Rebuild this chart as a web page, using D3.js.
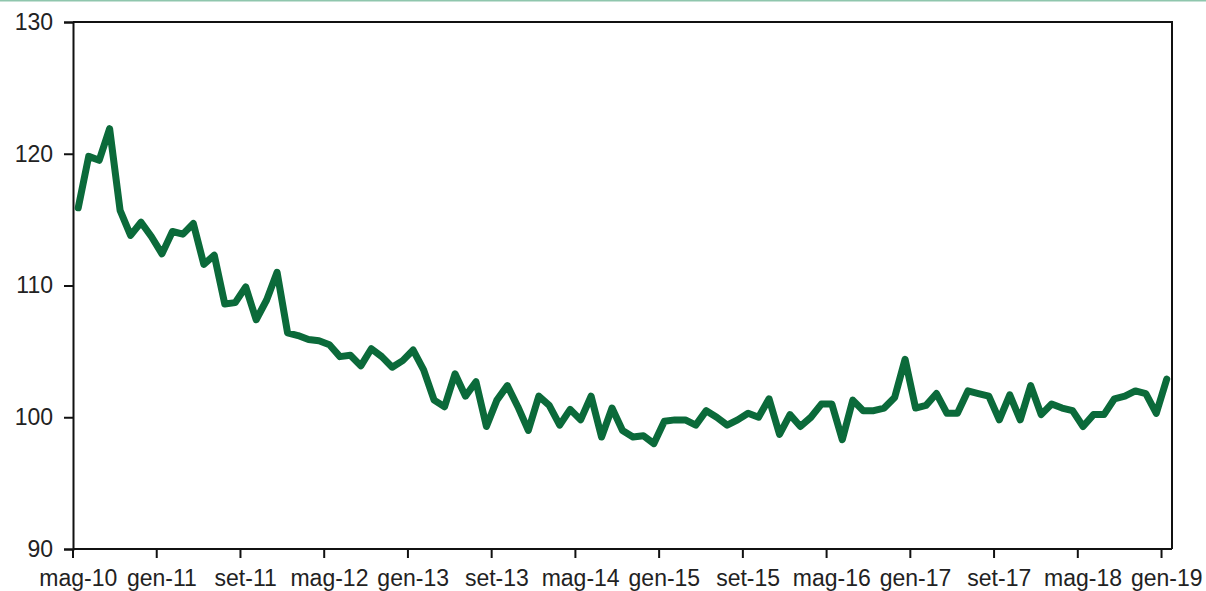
<!DOCTYPE html>
<html>
<head>
<meta charset="utf-8">
<script src="https://cdn.jsdelivr.net/npm/d3@7"></script>
<style>
  body { margin: 0; background: #fff; }
  svg text { font-family: "Liberation Sans", Arial, sans-serif; fill: #222; }
</style>
</head>
<body>
<div id="chart"></div>
<script>
// month names used on the axis (Italian)
var monthNames = ["gen", "feb", "mar", "apr", "mag", "giu", "lug", "ago", "set", "ott", "nov", "dic"];

// monthly index values, mag-10 .. gen-19
var values = [
  115.9, 119.8, 119.5, 121.9, 115.7, 113.8, 114.8, 113.7, 112.4, 114.1,
  113.9, 114.7, 111.6, 112.3, 108.6, 108.7, 109.9, 107.4, 108.9, 111.0,
  106.4, 106.2, 105.9, 105.8, 105.5, 104.6, 104.7, 103.9, 105.2, 104.6,
  103.8, 104.3, 105.1, 103.6, 101.3, 100.8, 103.3, 101.6, 102.7, 99.3,
  101.3, 102.4, 100.8, 99.0, 101.6, 100.9, 99.4, 100.6, 99.8, 101.6,
  98.5, 100.7, 99.0, 98.5, 98.6, 98.0, 99.7, 99.8, 99.8, 99.4,
  100.5, 100.0, 99.4, 99.8, 100.3, 100.0, 101.4, 98.7, 100.2, 99.3,
  100.0, 101.0, 101.0, 98.3, 101.3, 100.5, 100.5, 100.7, 101.5, 104.4,
  100.7, 100.9, 101.8, 100.3, 100.3, 102.0, 101.8, 101.6, 99.8, 101.7,
  99.8, 102.4, 100.2, 101.0, 100.7, 100.5, 99.3, 100.2, 100.2, 101.4,
  101.6, 102.0, 101.8, 100.3, 102.9
];

var yTicks = [90, 100, 110, 120, 130];
var labelEvery = 8;

// build category labels starting from May 2010
var categories = [];
for (var i = 0; i < values.length; i++) {
  var m = (4 + i) % 12;
  var yr = 10 + Math.floor((4 + i) / 12);
  categories.push(monthNames[m] + "-" + yr);
}

var fullWidth = 1206, fullHeight = 591;
var plotLeft = 73, plotRight = 1172, plotTop = 22, plotBottom = 549;

var svg = d3.select("#chart").append("svg")
  .attr("width", fullWidth)
  .attr("height", fullHeight);

// thin top border
svg.append("line")
  .attr("x1", 0).attr("x2", fullWidth)
  .attr("y1", 0.5).attr("y2", 0.5)
  .attr("stroke", "#8fc6ad").attr("stroke-width", 2);

var xScale = d3.scaleBand()
  .domain(categories)
  .range([plotLeft, plotRight])
  .paddingInner(0).paddingOuter(0);

var yScale = d3.scaleLinear()
  .domain([90, 130])
  .range([plotBottom, plotTop]);

// plot frame (top and right)
svg.append("path")
  .attr("d", "M" + plotLeft + "," + plotTop + "H" + plotRight + "V" + plotBottom)
  .attr("fill", "none")
  .attr("stroke", "#111")
  .attr("stroke-width", 2);

// y axis
var yAxis = svg.append("g")
  .attr("transform", "translate(" + plotLeft + ",0)")
  .call(d3.axisLeft(yScale).tickValues(yTicks).tickSize(9).tickPadding(11));
yAxis.select(".domain").attr("stroke", "#111").attr("stroke-width", 2);
yAxis.selectAll(".tick line").attr("stroke", "#111").attr("stroke-width", 2);
yAxis.selectAll("text").style("font-size", "23px").attr("fill", "#222");

// x axis: ticks at category edges every 8 months, labels at category centre
var tickCats = categories.filter(function(d, i) { return i % labelEvery == 0; });
var xAxis = svg.append("g")
  .attr("transform", "translate(0," + plotBottom + ")");
xAxis.append("line")
  .attr("x1", plotLeft).attr("x2", plotRight)
  .attr("stroke", "#111").attr("stroke-width", 2);
xAxis.selectAll("line.tick")
  .data(tickCats)
  .enter().append("line")
  .attr("class", "tick")
  .attr("x1", function(d) { return xScale(d); })
  .attr("x2", function(d) { return xScale(d); })
  .attr("y1", 0).attr("y2", 9)
  .attr("stroke", "#111").attr("stroke-width", 2);
xAxis.selectAll("text")
  .data(tickCats)
  .enter().append("text")
  .attr("x", function(d) { return xScale(d) + xScale.bandwidth() / 2; })
  .attr("y", 37)
  .style("text-anchor", "middle")
  .style("font-size", "23px")
  .text(function(d) { return d; });

// the line
var line = d3.line()
  .x(function(d, i) { return xScale(categories[i]) + xScale.bandwidth() / 2; })
  .y(function(d) { return yScale(d); });

svg.append("path")
  .datum(values)
  .attr("d", line)
  .attr("fill", "none")
  .attr("stroke", "#0b6a3a")
  .attr("stroke-width", 7)
  .attr("stroke-linejoin", "round")
  .attr("stroke-linecap", "round");
</script>
</body>
</html>
